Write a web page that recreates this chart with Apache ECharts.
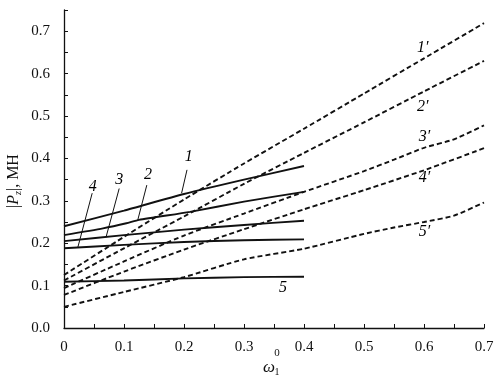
<!DOCTYPE html>
<html>
<head>
<meta charset="utf-8">
<script src="https://cdn.jsdelivr.net/npm/echarts@6/dist/echarts.min.js"></script>
<style>
  html, body { margin: 0; padding: 0; background: #fff; }
  #chart { width: 502px; height: 381px; }
</style>
</head>
<body>
<div id="chart"></div>
<script>
// solid curves 1..5 (x from 0 to 0.4)
const solid1 = [[0, 0.24], [0.1, 0.277], [0.2, 0.316], [0.3, 0.35], [0.4, 0.382]]
const solid2 = [[0, 0.219], [0.065, 0.235], [0.104, 0.247], [0.125, 0.255], [0.21, 0.274], [0.3, 0.298], [0.4, 0.321]]
const solid3 = [[0, 0.205], [0.1, 0.219], [0.2, 0.232], [0.3, 0.243], [0.4, 0.253]]
const solid4 = [[0, 0.188], [0.1, 0.196], [0.2, 0.203], [0.3, 0.207], [0.4, 0.209]]
const solid5 = [[0, 0.109], [0.1, 0.112], [0.2, 0.117], [0.3, 0.12], [0.4, 0.121]]

// dashed curves 1'..5' (x from 0 to 0.7)
const dash1 = [[0, 0.125], [0.1, 0.215], [0.2, 0.303], [0.3, 0.388], [0.4, 0.47], [0.5, 0.553], [0.6, 0.636], [0.7, 0.719]]
const dash2 = [[0, 0.112], [0.1, 0.188], [0.2, 0.263], [0.3, 0.34], [0.4, 0.413], [0.5, 0.485], [0.6, 0.558], [0.7, 0.63]]
const dash3 = [[0, 0.094], [0.1, 0.157], [0.2, 0.218], [0.3, 0.27], [0.4, 0.321], [0.5, 0.37], [0.55, 0.397], [0.6, 0.425], [0.65, 0.445], [0.7, 0.478]]
const dash4 = [[0, 0.078], [0.1, 0.133], [0.2, 0.185], [0.3, 0.233], [0.4, 0.28], [0.5, 0.325], [0.6, 0.372], [0.7, 0.424]]
const dash5 = [[0, 0.05], [0.1, 0.085], [0.2, 0.12], [0.3, 0.162], [0.4, 0.187], [0.5, 0.222], [0.55, 0.237], [0.6, 0.25], [0.65, 0.265], [0.7, 0.296]]

// curve labels [x, y, text]
const curveLabels = [
  [0.208, 0.403, '1'], [0.140, 0.361, '2'], [0.092, 0.349, '3'], [0.048, 0.334, '4'], [0.365, 0.094, '5'],
  [0.598, 0.660, '1\u2032'], [0.598, 0.521, '2\u2032'], [0.601, 0.450, '3\u2032'], [0.601, 0.354, '4\u2032'], [0.601, 0.226, '5\u2032'],
]
// leader lines from label to curve
const leaders = [
  [[0.205, 0.373], [0.196, 0.318]],
  [[0.138, 0.337], [0.123, 0.255]],
  [[0.092, 0.329], [0.07, 0.214]],
  [[0.047, 0.318], [0.023, 0.19]],
]

const serif = 'Liberation Serif'
const chart = echarts.init(document.getElementById('chart'))

const solidSeries = [solid1, solid2, solid3, solid4, solid5].map((d, i) => ({
  name: String(i + 1),
  type: 'line',
  data: d,
  symbol: 'none',
  smooth: 0.2,
  lineStyle: { color: '#111', width: 1.9 },
  z: 3,
}))
const dashSeries = [dash1, dash2, dash3, dash4, dash5].map((d, i) => ({
  name: (i + 1) + '\u2032',
  type: 'line',
  data: d,
  symbol: 'none',
  smooth: 0.2,
  lineStyle: { color: '#111', width: 1.9, type: [5, 3] },
  z: 2,
}))

const option = {
  backgroundColor: '#fff',
  animation: false,
  grid: { left: 64, right: 18, top: 10, bottom: 53 },
  xAxis: {
    type: 'value',
    min: 0,
    max: 0.7,
    interval: 0.05,
    axisLine: { lineStyle: { color: '#111', width: 1.3 } },
    axisTick: { inside: true, length: 4, lineStyle: { color: '#111' } },
    splitLine: { show: false },
    axisLabel: {
      color: '#111',
      fontFamily: serif,
      fontSize: 15,
      margin: 12,
      formatter: (v) => {
        const k = Math.round(v * 100)
        if (k % 10 !== 0) return ''
        return k === 0 ? '0' : (k / 100).toFixed(1)
      },
    },
  },
  yAxis: {
    type: 'value',
    min: 0,
    max: 0.75,
    interval: 0.05,
    axisLine: { show: true, lineStyle: { color: '#111', width: 1.3 } },
    axisTick: { show: true, inside: true, length: 4, lineStyle: { color: '#111' } },
    splitLine: { show: false },
    axisLabel: {
      color: '#111',
      fontFamily: serif,
      fontSize: 15,
      margin: 14,
      formatter: (v) => {
        const k = Math.round(v * 100)
        return k % 10 === 0 ? (k / 100).toFixed(1) : ''
      },
    },
  },
  graphic: [
    {
      type: 'text',
      x: 14,
      y: 181,
      rotation: Math.PI / 2,
      style: {
        text: '|{i|P}{s|z}|, МН',
        font: '16px ' + serif,
        fill: '#111',
        align: 'center',
        verticalAlign: 'middle',
        rich: {
          i: { fontStyle: 'italic', fontFamily: serif, fontSize: 16 },
          s: { fontStyle: 'italic', fontFamily: serif, fontSize: 10, padding: [8, 0, 0, 0] },
        },
      },
    },
    {
      type: 'text',
      x: 269,
      y: 368,
      style: { text: 'ω', font: 'italic 17px ' + serif, fill: '#111', align: 'center', verticalAlign: 'middle' },
    },
    {
      type: 'text',
      x: 277,
      y: 353,
      style: { text: '0', font: '11px ' + serif, fill: '#111', align: 'center', verticalAlign: 'middle' },
    },
    {
      type: 'text',
      x: 277,
      y: 372,
      style: { text: '1', font: '10px ' + serif, fill: '#111', align: 'center', verticalAlign: 'middle' },
    },
  ],
  series: [
    ...solidSeries,
    ...dashSeries,
    {
      name: 'leaders',
      type: 'lines',
      coordinateSystem: 'cartesian2d',
      data: leaders.map((c) => ({ coords: c })),
      lineStyle: { color: '#111', width: 1, opacity: 1 },
      symbol: 'none',
      z: 4,
    },
    {
      name: 'labels',
      type: 'scatter',
      data: curveLabels,
      symbolSize: 1,
      itemStyle: { color: 'rgba(0,0,0,0)', opacity: 1 },
      label: {
        show: true,
        position: 'inside',
        formatter: (p) => p.value[2],
        color: '#000',
        opacity: 1,
        textBorderWidth: 0,
        fontFamily: serif,
        fontStyle: 'italic',
        fontSize: 16,
      },
      emphasis: { disabled: true },
      z: 5,
    },
  ],
}
chart.setOption(option)
</script>
</body>
</html>
